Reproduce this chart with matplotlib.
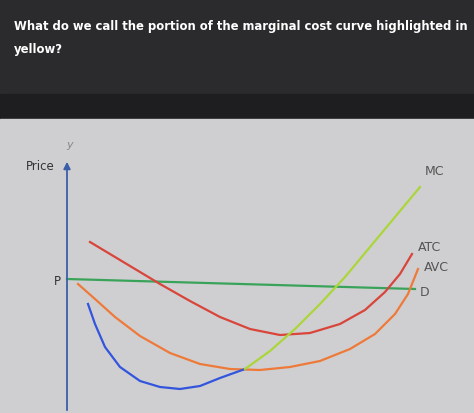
import numpy as np
import matplotlib.pyplot as plt
from matplotlib.patches import Rectangle

# curves traced in pixel coordinates of the screenshot (x right, y down)
mc_low_x = [88, 95, 105, 120, 140, 160, 180, 200, 220, 245]
mc_low_y = [305, 325, 348, 368, 382, 388, 390, 387, 379, 370]
mc_high_x = [245, 270, 295, 320, 345, 370, 395, 420]
mc_high_y = [370, 352, 330, 305, 278, 248, 218, 188]
atc_x = [90, 110, 135, 160, 190, 220, 250, 280, 310, 340, 365, 385, 400, 412]
atc_y = [243, 255, 270, 285, 302, 318, 330, 336, 334, 325, 311, 293, 275, 255]
avc_x = [78, 95, 115, 140, 170, 200, 230, 260, 290, 320, 350, 375, 395, 408, 418]
avc_y = [285, 300, 318, 337, 354, 365, 370, 371, 368, 362, 350, 335, 315, 295, 270]
d_x = [67, 415]
d_y = [280, 290]

title = "What do we call the portion of the marginal cost curve highlighted in\nyellow?"

fig = plt.figure(figsize=(4.74, 4.14), dpi=100)
ax = fig.add_axes([0, 0, 1, 1])
ax.set_xlim(0, 474)
ax.set_ylim(414, 0)
ax.axis('off')

ax.add_patch(Rectangle((0, 0), 474, 95, color='#2b2b2d', zorder=0))
ax.add_patch(Rectangle((0, 95), 474, 25, color='#1e1e20', zorder=0))
ax.add_patch(Rectangle((0, 120), 474, 294, color='#cfcfd1', zorder=0))

ax.text(14, 20, title, color='white', fontsize=8.4, fontweight='bold', va='top', linespacing=2.0)

# axis with arrow
ax.annotate('', xy=(67, 160), xytext=(67, 414),
            arrowprops=dict(arrowstyle='-|>', color='#3a5fa8', lw=1.3))
ax.text(70, 148, 'y', color='#888888', fontsize=8, style='italic', ha='center')
ax.text(40, 167, 'Price', color='#333333', fontsize=8.5, ha='center', va='center')
ax.text(57, 282, 'P', color='#333333', fontsize=8.5, ha='center', va='center')

ax.plot(d_x, d_y, color='#3aa35a', lw=1.6)
ax.plot(atc_x, atc_y, color='#d9453a', lw=1.6)
ax.plot(avc_x, avc_y, color='#ee7a3a', lw=1.6)
ax.plot(mc_low_x, mc_low_y, color='#3355dd', lw=1.6)
ax.plot(mc_high_x, mc_high_y, color='#aad63a', lw=1.6)

ax.text(435, 172, 'MC', color='#555555', fontsize=9, ha='center', va='center')
ax.text(430, 248, 'ATC', color='#555555', fontsize=9, ha='center', va='center')
ax.text(436, 268, 'AVC', color='#555555', fontsize=9, ha='center', va='center')
ax.text(425, 293, 'D', color='#555555', fontsize=9, ha='center', va='center')

fig.savefig('out.png', dpi=100)
